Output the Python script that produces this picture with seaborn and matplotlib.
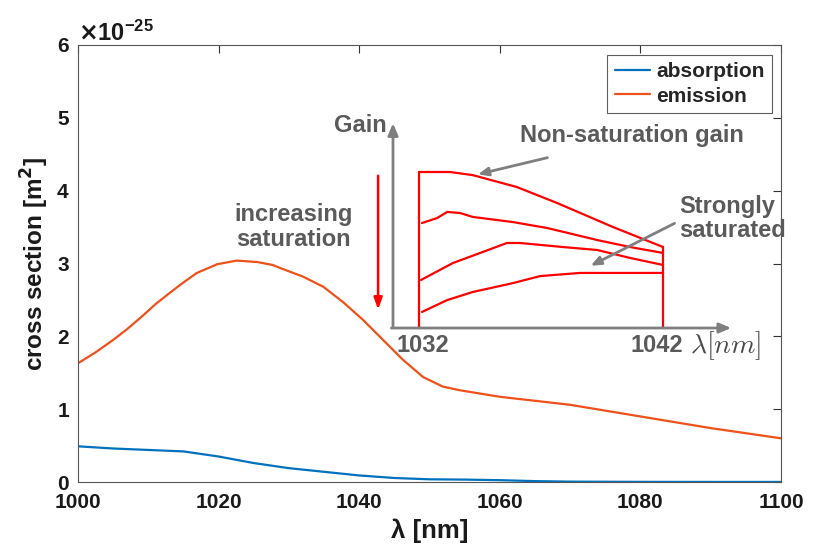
import numpy as np
import pandas as pd
import matplotlib
matplotlib.use("Agg")
import matplotlib.pyplot as plt
from matplotlib.ticker import ScalarFormatter
import seaborn as sns

# Yb cross sections (m^2)
wl_abs = [1000, 1005, 1010, 1015, 1020, 1025, 1030, 1035, 1040, 1045, 1050,
          1055, 1060, 1065, 1070, 1080, 1090, 1100]
sigma_abs = [0.49, 0.46, 0.44, 0.42, 0.35, 0.26, 0.19, 0.14, 0.09, 0.055, 0.037,
             0.033, 0.025, 0.012, 0.005, 0.002, 0.001, 0.001]

wl_em = [1000, 1002.5, 1005, 1007, 1009.3, 1011, 1013.1, 1015, 1016.9, 1019.8, 1022.6,
         1025.5, 1027.7, 1028.7, 1032, 1034.9, 1037.7, 1040.5, 1043.4, 1046.2,
         1049.1, 1051.9, 1054.3, 1060, 1070, 1080, 1090, 1100]
sigma_em = [1.63, 1.78, 1.95, 2.10, 2.29, 2.44, 2.60, 2.74, 2.87, 2.99, 3.04,
            3.02, 2.98, 2.94, 2.82, 2.68, 2.47, 2.23, 1.95, 1.68,
            1.44, 1.31, 1.26, 1.17, 1.06, 0.90, 0.74, 0.60]

SCALE = 1e-25

# Sketch of gain spectra between 1032 and 1042 nm at rising saturation (arb. units)
gain_wl = [
    [1032.0, 1033.27, 1034.2, 1036.0, 1037.66, 1039.95, 1042.0],
    [1032.12, 1032.74, 1033.15, 1033.68, 1034.2, 1035.85, 1037.25, 1039.3, 1040.65, 1042.0],
    [1032.08, 1033.39, 1034.5, 1035.6, 1036.14, 1037.9, 1039.3, 1040.65, 1042.0],
    [1032.12, 1033.15, 1034.2, 1035.85, 1036.96, 1038.6, 1042.0],
]
gain_val = [
    [1.0, 1.0, 0.98, 0.904, 0.801, 0.647, 0.519],
    [0.673, 0.705, 0.744, 0.737, 0.712, 0.679, 0.641, 0.564, 0.519, 0.481],
    [0.308, 0.417, 0.481, 0.545, 0.545, 0.519, 0.50, 0.449, 0.404],
    [0.103, 0.179, 0.231, 0.288, 0.333, 0.353, 0.353],
]

sns.set_style("white")
plt.rcParams["font.family"] = ["Liberation Sans", "DejaVu Sans"]
plt.rcParams["font.weight"] = "bold"
plt.rcParams["mathtext.default"] = "bf"

BLUE = "#0072BD"
ORANGE = "#EE5119"
GRAY = "#5a5a5a"
AXGRAY = "#7f7f7f"
RED = "#FF0000"

fig = plt.figure(figsize=(8.14, 5.5), dpi=100)
W, H = 814, 550
ax = fig.add_axes([78 / W, (H - 482) / H, (781 - 78) / W, (482 - 45) / H])

df = pd.concat([
    pd.DataFrame({"wl": wl_abs, "sigma": np.array(sigma_abs) * SCALE, "kind": "absorption"}),
    pd.DataFrame({"wl": wl_em, "sigma": np.array(sigma_em) * SCALE, "kind": "emission"}),
])
sns.lineplot(data=df, x="wl", y="sigma", hue="kind", palette=[BLUE, ORANGE],
             linewidth=1.6, ax=ax)

ax.set_xlim(1000, 1100)
ax.set_ylim(0, 6 * SCALE)
ax.set_xticks(np.arange(1000, 1101, 20))
ax.set_yticks(np.arange(0, 7) * SCALE)
fmt = ScalarFormatter(useMathText=True)
fmt.set_powerlimits((-25, -25))
ax.yaxis.set_major_formatter(fmt)
ax.yaxis.get_offset_text().set_fontsize(17)
ax.yaxis.get_offset_text().set_fontweight("bold")

ax.tick_params(direction="in", top=True, right=True, length=6, width=0.8,
               color="#333333", labelsize=15, labelcolor="#1a1a1a")
ax.tick_params(axis="x", pad=8)
ax.tick_params(axis="y", pad=6)
for lbl in ax.get_xticklabels() + ax.get_yticklabels():
    lbl.set_fontweight("bold")
for sp in ax.spines.values():
    sp.set_color("#555555")
    sp.set_linewidth(0.8)

ax.set_xlabel("λ [nm]", fontsize=18.5, fontweight="bold", labelpad=5, color="#1a1a1a")
ax.set_ylabel("cross section [m$^2$]", fontsize=17.5, fontweight="bold", labelpad=4,
              color="#1a1a1a")

leg = ax.legend(loc="upper right", bbox_to_anchor=(0.987, 0.977), fontsize=15,
                frameon=True, fancybox=False, edgecolor="#333333", handlelength=1.7,
                borderpad=0.35, labelspacing=0.25, handletextpad=0.3, borderaxespad=0)
leg.get_frame().set_linewidth(0.8)
for t in leg.get_texts():
    t.set_fontweight("bold")

# Overlaid sketch of saturated gain spectra
ins = fig.add_axes([250 / W, (H - 360) / H, 540 / W, 260 / H])
ins.set_xlim(1025.07, 1047.2)
ins.set_ylim(-0.205, 1.4615)
ins.axis("off")
ins.patch.set_alpha(0)

for xs, ys in zip(gain_wl, gain_val):
    sns.lineplot(x=xs, y=ys, color=RED, linewidth=1.6, ax=ins, sort=False)
# band edges
ins.plot([gain_wl[0][0], gain_wl[0][0]], [0, gain_val[0][0]], color=RED, lw=1.6)
ins.plot([gain_wl[0][-1], gain_wl[0][-1]], [0, gain_val[0][-1]], color=RED, lw=1.6)

# gain / wavelength axes of the sketch
arrow_kw = dict(arrowstyle="-|>,head_length=0.7,head_width=0.3", color=AXGRAY, lw=2)
ins.annotate("", xy=(1030.93, 1.33), xytext=(1030.93, -0.01), arrowprops=arrow_kw)
ins.annotate("", xy=(1044.9, 0.0), xytext=(1030.75, 0.0), arrowprops=arrow_kw)

txt_kw = dict(color=GRAY, fontsize=17, fontweight="bold")
ins.text(1029.58, 1.30, "Gain", ha="center", va="center", **txt_kw)
ins.text(1040.73, 1.237, "Non-saturation gain", ha="center", va="center", **txt_kw)
ins.text(1042.66, 0.70, "Strongly\nsaturated", ha="left", va="center",
         linespacing=1.05, **txt_kw)
ins.text(1026.84, 0.65, "increasing\nsaturation", ha="center", va="center",
         linespacing=1.1, **txt_kw)
ins.text(1032.16, -0.11, "1032", ha="center", va="center", **txt_kw)
ins.text(1041.75, -0.11, "1042", ha="center", va="center", **txt_kw)
ins.text(1043.1, -0.11, r"$\mathit{\lambda}[\mathit{nm}]$", ha="left", va="center",
         color="#4a4a4a", fontsize=20, math_fontfamily="cm")

pointer_kw = dict(arrowstyle="-|>,head_length=0.6,head_width=0.25", color=AXGRAY, lw=2)
ins.annotate("", xy=(1034.3, 0.981), xytext=(1037.37, 1.096), arrowprops=pointer_kw)
ins.annotate("", xy=(1038.93, 0.391), xytext=(1042.57, 0.679), arrowprops=pointer_kw)

ins.annotate("", xy=(1030.32, 0.10), xytext=(1030.32, 0.994),
             arrowprops=dict(arrowstyle="-|>,head_length=0.7,head_width=0.25",
                             color=RED, lw=1.8))

fig.savefig("out.png", dpi=100)
